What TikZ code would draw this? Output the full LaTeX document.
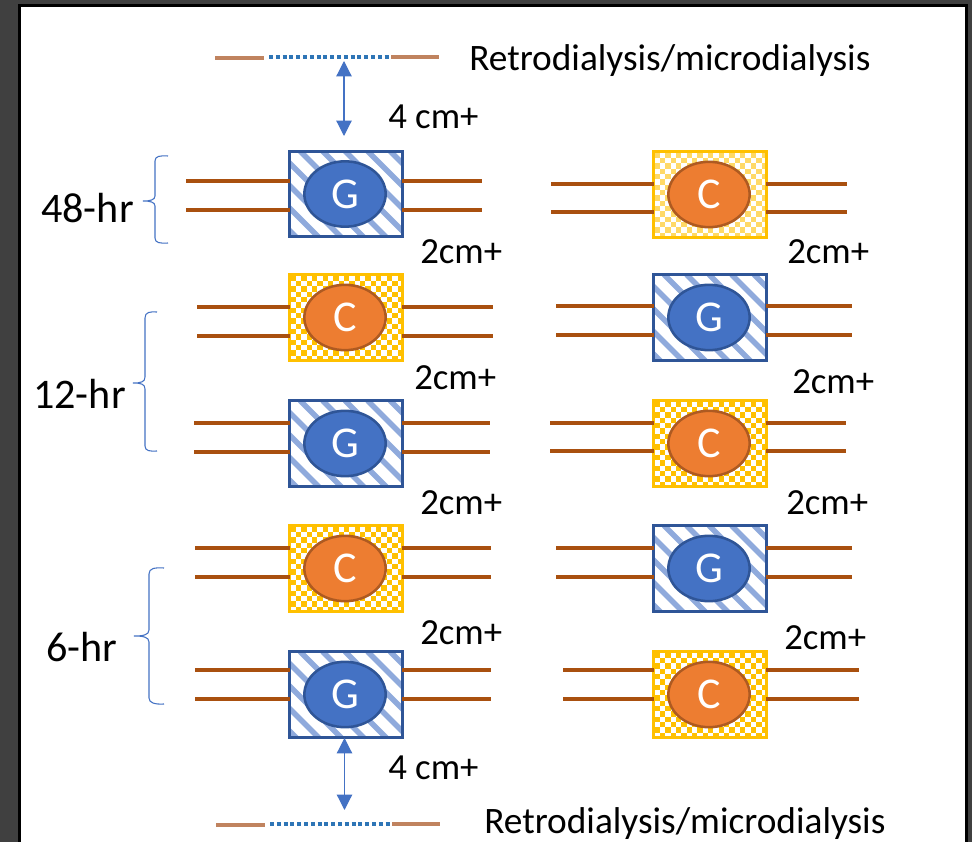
\documentclass[tikz,border=0pt]{standalone}
\usepackage{fontspec}
\setmainfont{Carlito}
\usetikzlibrary{shapes.geometric,arrows.meta}
\definecolor{pageback}{HTML}{404040}
\definecolor{gblue}{HTML}{4472C4}
\definecolor{gedge}{HTML}{2F5597}
\definecolor{gstripe}{HTML}{8FAADC}
\definecolor{corange}{HTML}{ED7D31}
\definecolor{cedge}{HTML}{AE5A21}
\definecolor{cgold}{HTML}{FFC000}
\definecolor{clight}{HTML}{FFD966}
\definecolor{leadbrown}{HTML}{A9500F}
\definecolor{tubebrown}{HTML}{C0835F}
\definecolor{dotblue}{HTML}{2E75B6}
% both fills are drawn directly, clipped to the box, from the box centre (cx,cy)
\newcommand\checkfill[3]{%
  \begin{scope}
    \clip (#2-55,#3-41.5) rectangle (#2+55,#3+41.5);
    \foreach \i in {0,...,21}{\foreach \j in {0,...,16}{%
      \pgfmathtruncatemacro\chkodd{mod(\i+\j,2)}%
      \ifnum\chkodd=0
        \fill[#1] ({#2-55.5+\i*5.35},{#3-42+\j*5.35}) rectangle ++(5.35,5.35);
      \fi}}
  \end{scope}}
\newcommand\stripefill[3]{%
  \begin{scope}
    \clip (#2-55,#3-41.5) rectangle (#2+55,#3+41.5);
    \foreach \k in {-6,...,5}{%
      \draw[#1,line width=4pt] ({#2-46+\k*22.5},#3-43) -- ++(95,95);}
  \end{scope}}
\tikzset{
  x=0.75pt,y=-0.75pt,
  chipbox/.style={rectangle,line width=2.1pt,minimum width=84.5pt,minimum height=64pt,outer sep=0pt,inner sep=0pt},
  gbox/.style={chipbox,draw=gedge},
  cbox/.style={chipbox,draw=cgold},
  gdisc/.style={ellipse,draw=gedge,line width=1.9pt,fill=gblue,text=white,minimum width=61pt,minimum height=49pt,inner sep=0pt,font=\fontsize{33}{33}\selectfont},
  cdisc/.style={ellipse,draw=cedge,line width=1.9pt,fill=corange,text=white,minimum width=61pt,minimum height=49pt,inner sep=0pt,font=\fontsize{33}{33}\selectfont},
  lead/.style={draw=leadbrown,line width=3pt},
  tube/.style={draw=tubebrown,line width=3pt},
  dots/.style={draw=dotblue,line width=3pt,dash pattern=on 3pt off 2.1pt},
  gap/.style={gblue,line width=0.9pt,{Triangle[width=11.5pt,length=11.5pt]}-{Triangle[width=11.5pt,length=11.5pt]}},
  curly/.style={draw=gblue,line width=0.8pt},
  probe/.style={anchor=base west,inner sep=0pt,font=\fontsize{28}{28}\selectfont},
  small/.style={anchor=base west,inner sep=0pt,font=\fontsize{27.6}{27.6}\selectfont},
  large/.style={anchor=base west,inner sep=0pt,font=\fontsize{31.6}{31.6}\selectfont},
}
% name, fill command with colour, box style, disc style, cx, cy, left end, lead y, right end
\newcommand\chip[9]{%
  #2{#5}{#6}
  \node[#3] (#1) at (#5,#6) {};
  \node[#4] (#1d) at (#5-1,#6) {\ifnum\pdfstrcmp{#4}{gdisc}=0 G\else C\fi};
  \coordinate (#1la) at (#7,#8);
  \coordinate (#1ra) at (#9,#8);}
\newcommand\chipleads[3]{%
  \coordinate (#1lb) at (#2,#3);
  \draw[lead] (#1la) -- (#1la -| #1.west);
  \draw[lead] (#1lb) -- (#1lb -| #1.west);
  \draw[lead] (#1.east |- #1ra) -- (#1ra);
  \draw[lead] (#1.east |- #1lb) -- (#1ra |- #1lb);}
\newcommand\gfill{\stripefill{gstripe}}
\newcommand\cfill{\checkfill{cgold}}
\newcommand\lfill{\checkfill{clight}}
\begin{document}
\begin{tikzpicture}
\useasboundingbox (0,0) rectangle (972,842);
\fill[pageback] (0,0) rectangle (972,842);
\fill[black] (18,4) rectangle (968,842);
\fill[white] (21,7) rectangle (964.5,842);
% left column
\chip{ga}{\gfill}{gbox}{gdisc}{346}{194}{186}{181}{482}\chipleads{ga}{186}{210}
\chip{cb}{\cfill}{cbox}{cdisc}{346}{317.5}{197}{307}{493}\chipleads{cb}{197}{336}
\chip{gc}{\gfill}{gbox}{gdisc}{346}{443.5}{194}{423}{490}\chipleads{gc}{194}{452}
\chip{cd}{\cfill}{cbox}{cdisc}{346}{568.5}{195}{548}{491}\chipleads{cd}{195}{577}
\chip{ge}{\gfill}{gbox}{gdisc}{346}{694.5}{195}{670}{491}\chipleads{ge}{195}{699}
% right column
\chip{ra}{\lfill}{cbox}{cdisc}{710}{194.5}{551}{184}{847}\chipleads{ra}{551}{212}
\chip{rb}{\gfill}{gbox}{gdisc}{710}{317.5}{556}{306}{852}\chipleads{rb}{556}{335}
\chip{rc}{\cfill}{cbox}{cdisc}{710}{443.5}{550}{423}{846}\chipleads{rc}{550}{451}
\chip{rd}{\gfill}{gbox}{gdisc}{710}{568.5}{556}{548}{852}\chipleads{rd}{556}{577}
\chip{re}{\cfill}{cbox}{cdisc}{710}{694.5}{563}{670}{859}\chipleads{re}{563}{699}
% dialysis probes
\coordinate (ta) at (215,58.5); \coordinate (tb) at (264,58.5);
\coordinate (tc) at (269,57); \coordinate (td) at (390,57);
\coordinate (te) at (391,57); \coordinate (tf) at (439,57);
\draw[tube] (ta) -- (tb); \draw[dots] (tc) -- (td); \draw[tube] (te) -- (tf);
\coordinate (ba) at (216,825); \coordinate (bb) at (265,825);
\coordinate (bc) at (270,824); \coordinate (bd) at (391,824);
\coordinate (be) at (392,823.5); \coordinate (bf) at (440,823.5);
\draw[tube] (ba) -- (bb); \draw[dots] (bc) -- (bd); \draw[tube] (be) -- (bf);
% spacing arrows
\coordinate (tp) at (344,61); \coordinate (tq) at (344,136);
\draw[gap] (tp) -- (tq);
\coordinate (bp) at (344.5,738); \coordinate (bq) at (344.5,810);
\draw[gap] (bp) -- (bq);
% braces
\draw[curly] (168,156) .. controls (160,155.5) and (155,156) .. (155,161) -- (155,196) .. controls (155,200) and (150,201) .. (143,201) .. controls (150,201) and (155,202) .. (155,206) -- (155,238) .. controls (155,243) and (160,243.5) .. (168,243);
\draw[curly] (157,312) .. controls (150,311.5) and (145,312) .. (145,318) -- (145,377) .. controls (145,382) and (141,383) .. (133,383) .. controls (141,383) and (145,384) .. (145,389) -- (145,446) .. controls (145,451) and (150,451.5) .. (157,451);
\draw[curly] (164,568) .. controls (155,567.5) and (149,568) .. (149,574) -- (149,630) .. controls (149,635) and (143,636) .. (134,636) .. controls (143,636) and (149,637) .. (149,642) -- (149,698) .. controls (149,703) and (155,704.5) .. (164,704);
% labels
\node[probe] (l1) at (469,71) {Retrodialysis/microdialysis};
\node[probe] (l2) at (484,833) {Retrodialysis/microdialysis};
\node[small] (l3) at (388,128) {4 cm+};
\node[small] (l4) at (388,779) {4 cm+};
\node[small] (m1) at (420,263) {2cm+};
\node[small] (m2) at (787,263) {2cm+};
\node[small] (m3) at (414,389) {2cm+};
\node[small] (m4) at (792,393) {2cm+};
\node[small] (m5) at (420,514) {2cm+};
\node[small] (m6) at (786,514) {2cm+};
\node[small] (m7) at (420,644) {2cm+};
\node[small] (m8) at (784,649) {2cm+};
\node[large] (h1) at (41,222) {48-hr};
\node[large] (h2) at (33,408) {12-hr};
\node[large] (h3) at (46,661) {6-hr};
\end{tikzpicture}
\end{document}
